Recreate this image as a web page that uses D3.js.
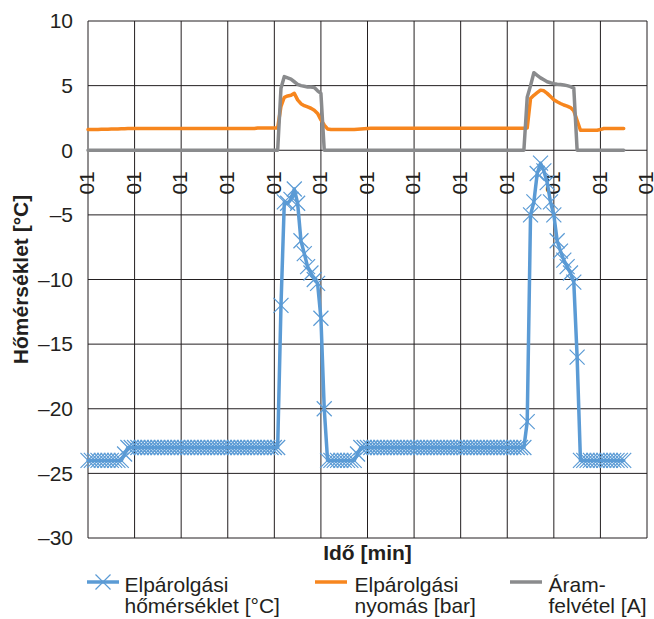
<!DOCTYPE html>
<html>
<head>
<meta charset="utf-8">
<script src="https://cdn.jsdelivr.net/npm/d3@7"></script>
<style>
  body { margin: 0; background: #fff; }
  text { font-family: "Liberation Sans", Arial, sans-serif; fill: #231f20; }
</style>
</head>
<body>
<svg id="chart" width="654" height="619"></svg>
<script>
// Evaporation temperature [°C], one value per sample
const temperature = [
  -24,-24,-24,-24,-24,-24,-24,-24,-24,-24,-24,
  -23.5,
  -23,-23,-23,-23,-23,-23,-23,-23,-23,-23,
  -23,-23,-23,-23,-23,-23,-23,-23,-23,-23,
  -23,-23,-23,-23,-23,-23,-23,-23,-23,-23,
  -23,-23,-23,-23,-23,-23,-23,-23,-23,-23,
  -23,-23,-23,-23,-23,-23,
  -12,-4,-4.1,-3.8,-3,-4.1,-7,-8,-9,-9.5,-10,-10.3,-13,-20,
  -24,-24,-24,-24,-24,-24,-24,-24,-24,
  -23.5,
  -23,-23,-23,-23,-23,-23,-23,-23,-23,-23,
  -23,-23,-23,-23,-23,-23,-23,-23,-23,-23,
  -23,-23,-23,-23,-23,-23,-23,-23,-23,-23,
  -23,-23,-23,-23,-23,-23,-23,-23,-23,-23,
  -23,-23,-23,-23,-23,-23,-23,-23,-23,-23,
  -21,-5,-4,-1.8,-1,-1.6,-2.5,-4,-5,-7,-7.8,-8.5,-9,-9.5,-10.2,-16,
  -24,-24,-24,-24,-24,-24,-24,-24,-24,-24,-24,-24,-24,-24
];

// Evaporation pressure [bar]
const pressure = [
  1.6,1.6,1.6,1.61,1.62,1.62,1.63,1.64,1.65,1.65,1.66,1.67,1.68,1.68,
  1.68,1.68,1.68,1.68,1.68,1.68,1.68,1.68,1.68,1.68,
  1.68,1.68,1.68,1.68,1.68,1.68,1.68,1.68,1.68,1.68,
  1.68,1.68,1.68,1.68,1.68,1.68,1.68,1.68,1.68,1.68,
  1.68,1.68,1.68,1.68,1.68,1.68,1.68,
  1.72,1.72,1.72,1.72,1.72,1.72,1.72,
  3.4,4.1,4.2,4.25,4.4,3.9,3.6,3.45,3.35,3.25,3.1,2.85,2.35,1.95,1.65,
  1.6,1.6,1.6,1.6,1.6,1.6,1.6,1.6,
  1.62,1.64,1.66,1.68,
  1.7,1.7,1.7,1.7,1.7,1.7,1.7,1.7,1.7,1.7,
  1.7,1.7,1.7,1.7,1.7,1.7,1.7,1.7,1.7,1.7,
  1.7,1.7,1.7,1.7,1.7,1.7,1.7,1.7,1.7,1.7,
  1.7,1.7,1.7,1.7,1.7,1.7,1.7,1.7,1.7,1.7,
  1.7,1.7,1.7,1.7,1.7,1.7,
  1.7,1.72,
  4.0,4.25,4.45,4.65,4.6,4.4,4.15,3.9,3.75,3.62,3.5,3.42,3.3,3.05,2.3,
  1.55,1.55,1.55,1.55,1.55,1.55,
  1.6,
  1.68,1.68,1.68,1.68,1.68,1.68,1.68
];

// Compressor current draw [A]
const current = [
  0,0,0,0,0,0,0,0,0,0,
  0,0,0,0,0,0,0,0,0,0,
  0,0,0,0,0,0,0,0,0,0,
  0,0,0,0,0,0,0,0,0,0,
  0,0,0,0,0,0,0,0,0,0,
  0,0,0,0,0,0,0,0,
  4.8,5.7,5.6,5.5,5.3,5.1,5.0,4.95,4.9,4.9,4.85,4.6,4.4,
  0,0,0,0,0,0,0,0,0,0,
  0,0,0,0,0,0,0,0,0,0,
  0,0,0,0,0,0,0,0,0,0,
  0,0,0,0,0,0,0,0,0,0,
  0,0,0,0,0,0,0,0,0,0,
  0,0,0,0,0,0,0,0,0,0,
  0,
  4.1,5.0,6.0,5.8,5.6,5.45,5.3,5.22,5.15,5.1,5.08,5.05,5.0,4.92,4.8,
  0,0,0,0,0,0,0,0,0,0,0,0,0,0,0
];

// Category axis: 169 slots, a labelled tick every 14 samples
const categoryCount = 169;
const tickEvery = 14;
const xTickLabel = "01";
const yTicks = [-30, -25, -20, -15, -10, -5, 0, 5, 10];

const yTitle = "Hőmérséklet [°C]";
const xTitle = "Idő [min]";
const legendLabels = [
  ["Elpárolgási", "hőmérséklet [°C]"],
  ["Elpárolgási", "nyomás [bar]"],
  ["Áram-", "felvétel [A]"]
];

const colors = { temperature: "#5b9bd5", pressure: "#f7861e", current: "#8a8b8d" };
const gridColor = "#231f20";

const svg = d3.select("#chart");
const plot = { left: 88, right: 647, top: 21, bottom: 538 };

const x = d3.scaleLinear().domain([0, categoryCount - 1]).range([plot.left, plot.right]);
const y = d3.scaleLinear().domain([-30, 10]).range([plot.bottom, plot.top]);

const tickIdx = d3.range(0, categoryCount, tickEvery);

// Gridlines
const grid = svg.append("g").attr("stroke", gridColor).attr("stroke-width", 1).attr("fill", "none");
grid.selectAll("line.v").data(tickIdx).join("line")
  .attr("x1", d => x(d)).attr("x2", d => x(d))
  .attr("y1", plot.top).attr("y2", plot.bottom);
grid.selectAll("line.h").data(yTicks).join("line")
  .attr("x1", plot.left).attr("x2", plot.right)
  .attr("y1", d => y(d)).attr("y2", d => y(d));

// Y tick labels
const fmt = v => (v < 0 ? "\u2013" + Math.abs(v) : String(v));
svg.append("g").selectAll("text").data(yTicks).join("text")
  .attr("x", 73).attr("y", d => y(d)).attr("dy", "0.35em")
  .attr("text-anchor", "end").attr("font-size", 21)
  .text(fmt);

// X tick labels, rotated, hanging below the zero line
svg.append("g").selectAll("text").data(tickIdx).join("text")
  .attr("transform", d => `translate(${x(d)},${y(0) + 21}) rotate(-90)`)
  .attr("dy", "0.3em").attr("text-anchor", "end").attr("font-size", 21)
  .text(xTickLabel);

// Axis titles
svg.append("text")
  .attr("transform", `translate(28,${(plot.top + plot.bottom) / 2}) rotate(-90)`)
  .attr("text-anchor", "middle").attr("font-size", 21).attr("font-weight", "bold")
  .text(yTitle);
svg.append("text")
  .attr("x", (plot.left + plot.right) / 2).attr("y", 560)
  .attr("text-anchor", "middle").attr("font-size", 21).attr("font-weight", "bold")
  .text(xTitle);

// Series
const line = d3.line().x((d, i) => x(i)).y(d => y(d));
const series = svg.append("g").attr("fill", "none")
  .attr("stroke-width", 3.5).attr("stroke-linejoin", "round").attr("stroke-linecap", "round");

series.append("path").datum(temperature).attr("stroke", colors.temperature).attr("d", line);

const crossPath = "M-7.5,-7.5L7.5,7.5M-7.5,7.5L7.5,-7.5";
svg.append("g").attr("stroke", colors.temperature).attr("stroke-width", 1.2).attr("fill", "none")
  .selectAll("path").data(temperature).join("path")
  .attr("transform", (d, i) => `translate(${x(i)},${y(d)})`)
  .attr("d", crossPath);

series.append("path").datum(pressure).attr("stroke", colors.pressure).attr("d", line);
series.append("path").datum(current).attr("stroke", colors.current).attr("d", line);

// Legend
const legendX = [{ sym: 87, text: 124.5 }, { sym: 315, text: 354.5 }, { sym: 510, text: 548.5 }];
const legendColors = [colors.temperature, colors.pressure, colors.current];
const legendY = 582;
const lg = svg.append("g");
legendLabels.forEach((lines, k) => {
  const g = lg.append("g");
  g.append("line")
    .attr("x1", legendX[k].sym).attr("x2", legendX[k].sym + 32)
    .attr("y1", legendY).attr("y2", legendY)
    .attr("stroke", legendColors[k]).attr("stroke-width", 3.5);
  if (k === 0) {
    g.append("path")
      .attr("transform", `translate(${legendX[k].sym + 16},${legendY})`)
      .attr("d", crossPath).attr("stroke", legendColors[k]).attr("stroke-width", 1.2).attr("fill", "none");
  }
  const t = g.append("text").attr("font-size", 21);
  lines.forEach((s, j) => {
    t.append("tspan").attr("x", legendX[k].text).attr("y", 591.5 + j * 21).text(s);
  });
});
</script>
</body>
</html>
